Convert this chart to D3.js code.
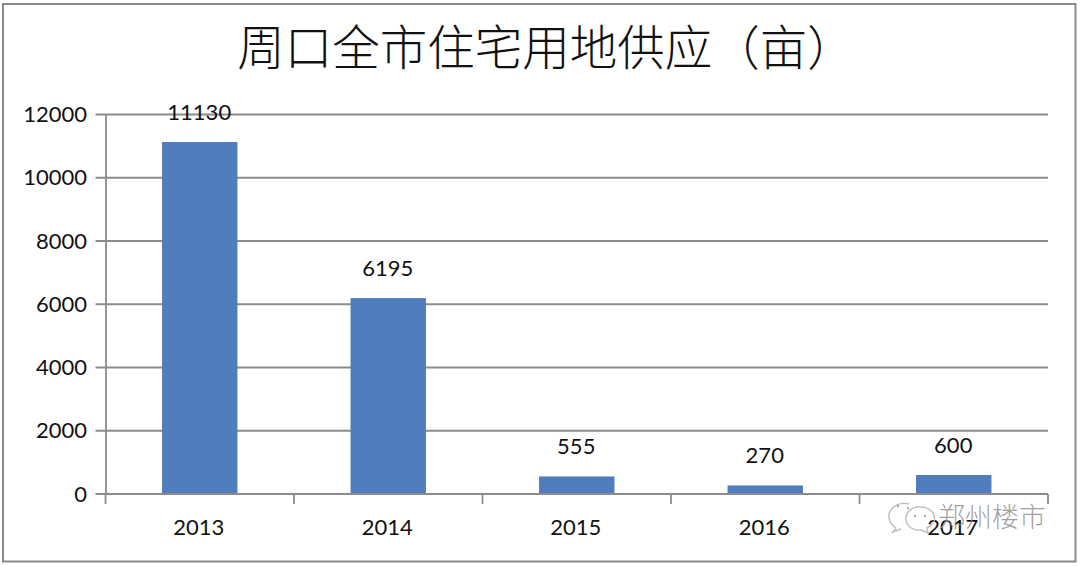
<!DOCTYPE html>
<html>
<head>
<meta charset="utf-8">
<script src="https://d3js.org/d3.v7.min.js"></script>
<title>周口全市住宅用地供应</title>
<style>
html, body { margin: 0; padding: 0; background: #fff; }
svg { display: block; }
text { font-family: Lato, "Noto Sans", sans-serif; fill: #111; }
</style>
</head>
<body>
<div id="chart"></div>
<script>
var titleText = "周口全市住宅用地供应（亩）";
var years = ["2013", "2014", "2015", "2016", "2017"];
var supply = [11130, 6195, 555, 270, 600];
var yTicks = [0, 2000, 4000, 6000, 8000, 10000, 12000];
var watermark = "郑州楼市";

var width = 1080, height = 566;
var left = 105.5, right = 1048, top_ = 114.5, bottom = 494;
var axisColor = "#8c8c8c";
var labelSize = "22px";

var svg = d3.select("#chart").append("svg")
	.attr("width", width)
	.attr("height", height);

// outer frame of the chart
svg.append("rect")
	.attr("x", 3).attr("y", 4)
	.attr("width", 1072.5).attr("height", 557.5)
	.attr("fill", "#fff")
	.attr("stroke", "#8a8a8a")
	.attr("stroke-width", 2);

// scales
var x = d3.scaleBand().domain(years).range([left, right]).paddingInner(0.6).paddingOuter(0.3);
var y = d3.scaleLinear().domain([0, 12000]).range([bottom, top_]);

// gridlines
svg.append("g").selectAll("line").data(yTicks).enter().append("line")
	.attr("x1", left - 10)
	.attr("x2", right)
	.attr("y1", function(d) { return y(d); })
	.attr("y2", function(d) { return y(d); })
	.attr("stroke", axisColor)
	.attr("stroke-width", 1.8);

// y axis labels
var yAxis = d3.axisLeft(y).tickValues(yTicks).tickFormat(d3.format("d")).tickSize(0).tickPadding(18.5);
var gy = svg.append("g").attr("transform", "translate(" + left + ",0)").call(yAxis);
gy.select(".domain").attr("stroke", axisColor).attr("stroke-width", 1.8);
gy.selectAll("text").style("font-size", labelSize).attr("fill", "#111");

// bars
svg.append("g").selectAll("rect").data(supply).enter().append("rect")
	.attr("x", function(d, i) { return x(years[i]); })
	.attr("y", function(d) { return y(d); })
	.attr("width", x.bandwidth())
	.attr("height", function(d) { return bottom - y(d); })
	.attr("fill", "#4f7dbd");

// x axis with ticks between the categories
var step = (right - left) / years.length;
var gx = svg.append("g");
gx.append("line")
	.attr("x1", left).attr("x2", right)
	.attr("y1", bottom).attr("y2", bottom)
	.attr("stroke", axisColor).attr("stroke-width", 1.8);
gx.selectAll(".tick").data(d3.range(years.length + 1)).enter().append("line")
	.attr("x1", function(i) { return left + i * step; })
	.attr("x2", function(i) { return left + i * step; })
	.attr("y1", bottom).attr("y2", bottom + 10)
	.attr("stroke", axisColor).attr("stroke-width", 1.8);

// value labels
svg.append("g").selectAll("text").data(supply).enter().append("text")
	.attr("x", function(d, i) { return x(years[i]) + x.bandwidth() / 2 - 0.5; })
	.attr("y", function(d) { return y(d) - 22; })
	.attr("text-anchor", "middle")
	.style("font-size", labelSize)
	.text(function(d) { return d; });

// title
svg.append("text")
	.attr("x", 546).attr("y", 65)
	.attr("text-anchor", "middle")
	.style("font-family", '"Noto Sans CJK SC"')
	.style("font-weight", 300)
	.style("font-size", "47.5px")
	.text(titleText);

// watermark: two chat bubbles and the account name
var wm = svg.append("g").attr("fill", "none").attr("stroke", "#bdbdbd").attr("stroke-width", 1.4);
wm.append("path").attr("d", "M909 504 C896 501 888 510 889 518 C890 523 893 526 896 528 L893 532 L901 529");
wm.append("path").attr("d", "M921 507 C911 506 905 513 906 520 C907 527 914 531 921 530 L928 533 L927 528 C933 525 936 520 934 515 C933 511 928 507 921 507 Z");
wm.selectAll("circle").data([[898, 506], [908, 508], [915, 516], [925, 516]]).enter().append("circle")
	.attr("cx", function(d) { return d[0]; })
	.attr("cy", function(d) { return d[1]; })
	.attr("r", 1.2)
	.attr("fill", "#a8a8a8")
	.attr("stroke", "none");
svg.append("text")
	.attr("x", 938).attr("y", 527)
	.style("font-family", '"Noto Sans CJK SC"')
	.style("font-weight", 300)
	.style("font-size", "27px")
	.style("fill", "#8f8f8f")
	.style("fill-opacity", 0.85)
	.text(watermark);

// category labels, 2017 stays readable over the watermark
gx.selectAll("text").data(years).enter().append("text")
	.attr("x", function(d) { return x(d) + x.bandwidth() / 2 - 1; })
	.attr("y", 535)
	.attr("text-anchor", "middle")
	.style("font-size", labelSize)
	.text(function(d) { return d; });
</script>
</body>
</html>
